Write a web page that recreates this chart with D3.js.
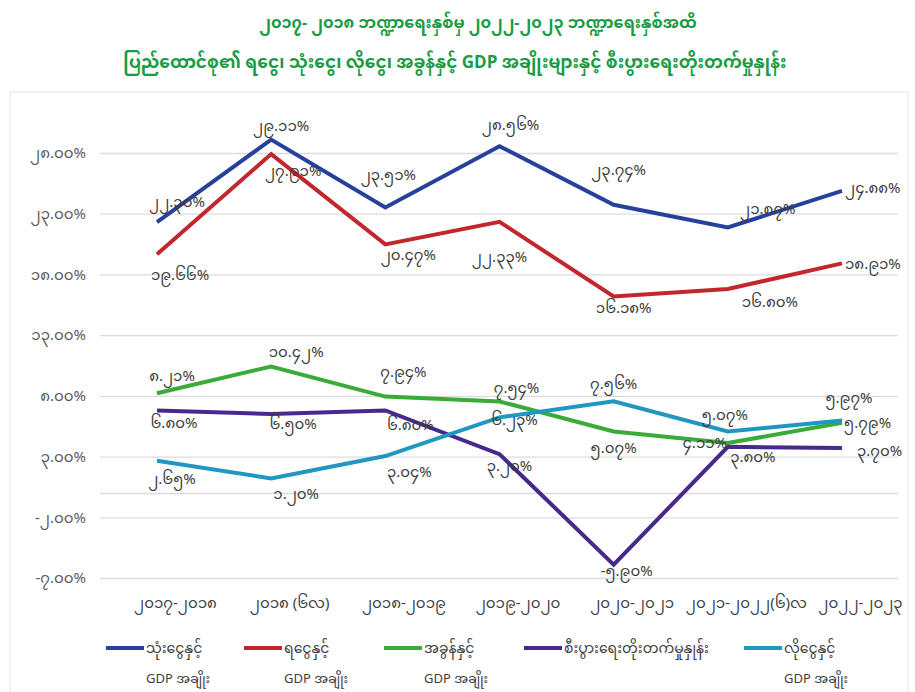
<!DOCTYPE html>
<html>
<head>
<meta charset="utf-8">
<script src="https://cdn.jsdelivr.net/npm/d3@7"></script>
<style>
  body { margin: 0; background: #fff; }
  text { font-family: "Noto Sans Myanmar", "Myanmar Text", "Padauk", "Noto Sans", sans-serif; }
</style>
</head>
<body>
<div id="chart"></div>
<script>
// data
var categories = ["၂၀၁၇-၂၀၁၈", "၂၀၁၈ (၆လ)", "၂၀၁၈-၂၀၁၉", "၂၀၁၉-၂၀၂၀", "၂၀၂၀-၂၀၂၁", "၂၀၂၁-၂၀၂၂(၆)လ", "၂၀၂၂-၂၀၂၃"];
var expenditure = [22.30, 29.11, 23.51, 28.56, 23.74, 21.87, 24.88];
var revenue = [19.66, 27.91, 20.47, 22.33, 16.18, 16.80, 18.91];
var tax = [8.21, 10.42, 7.94, 7.54, 5.07, 4.11, 5.79];
var growth = [6.80, 6.50, 6.80, 3.20, -5.90, 3.80, 3.70];
var deficit = [2.65, 1.20, 3.04, 6.23, 7.56, 5.07, 5.97];
var yTicks = [28, 23, 18, 13, 8, 3, -2, -7];
var seriesNames = [
    ["သုံးငွေနှင့်", "GDP အချိုး"],
    ["ရငွေနှင့်", "GDP အချိုး"],
    ["အခွန်နှင့်", "GDP အချိုး"],
    ["စီးပွားရေးတိုးတက်မှုနှုန်း"],
    ["လိုငွေနှင့်", "GDP အချိုး"]
];

function init() {
    var w = 915;
    var h = 692;

    var colors = ["#26409b", "#c1272d", "#3aab38", "#46298b", "#1f97c1"];
    var allSeries = [expenditure, revenue, tax, growth, deficit];

    // label offsets (dx, dy, anchor) per point, for layout only
    var labelPos = [
        [[20,-20,"middle"],[10,-14,"middle"],[3,-33,"middle"],[11,-21,"middle"],[5,-35,"middle"],[40,-19,"middle"],[3,-3,"start"]],
        [[23,20,"middle"],[22,17,"middle"],[23,10,"middle"],[0,35,"middle"],[10,11,"middle"],[42,13,"middle"],[3,0,"start"]],
        [[15,-18,"middle"],[25,-15,"middle"],[18,-25,"middle"],[17,-14,"middle"],[0,16,"middle"],[-23,0,"middle"],[2,0,"start"]],
        [[17,12,"middle"],[22,10,"middle"],[25,14,"middle"],[10,12,"middle"],[13,6,"middle"],[25,10,"middle"],[15,3,"start"]],
        [[15,18,"middle"],[25,15,"middle"],[24,16,"middle"],[15,2,"middle"],[0,-17,"middle"],[-3,-17,"middle"],[7,-23,"middle"]]
    ];

    var mmDigits = "၀၁၂၃၄၅၆၇၈၉";
    function toMM(s) {
        return String(s).replace(/[0-9]/g, function(c){ return mmDigits[+c]; });
    }

    var svg = d3.select("#chart")
        .append("svg")
        .attr("width", w)
        .attr("height", h);

    svg.append("rect")
        .attr("x", 10).attr("y", 92)
        .attr("width", 898).attr("height", 620)
        .attr("fill", "none")
        .attr("stroke", "#e3e3e3");

    // title
    var title = svg.append("g")
        .attr("fill", "#1a9b45")
        .attr("font-weight", "bold")
        .attr("font-size", 17)
        .attr("text-anchor", "middle");
    title.append("text").attr("x", 478).attr("y", 28)
        .attr("font-size", 16)
        .text("၂၀၁၇- ၂၀၁၈ ဘဏ္ဍာရေးနှစ်မှ  ၂၀၂၂-၂၀၂၃ ဘဏ္ဍာရေးနှစ်အထိ");
    title.append("text").attr("x", 455).attr("y", 68)
        .text("ပြည်ထောင်စု၏ ရငွေ၊ သုံးငွေ၊ လိုငွေ၊ အခွန်နှင့် GDP အချိုးများနှင့် စီးပွားရေးတိုးတက်မှုနှုန်း");

    var x = d3.scalePoint()
        .domain(categories)
        .range([157, 842]);

    var y = d3.scaleLinear()
        .domain([-7, 28])
        .range([578, 153]);

    // gridlines + y labels
    var yAxis = d3.axisLeft(y)
        .tickValues(yTicks.concat([0]))
        .tickSize(-798)
        .tickPadding(14)
        .tickFormat(function(d){ return d === 0 ? "" : toMM(d.toFixed(2)) + "%"; });

    var gy = svg.append("g")
        .attr("transform", "translate(100,0)")
        .call(yAxis);
    gy.select(".domain").remove();
    gy.selectAll(".tick line").attr("stroke", "#dcdcdc").attr("stroke-width", 1.3);
    gy.selectAll(".tick text")
        .attr("fill", "#595959")
        .attr("font-size", 15);

    // x labels
    var xAxis = d3.axisBottom(x).tickSize(0).tickPadding(0);
    var gx = svg.append("g")
        .attr("transform", "translate(18,597)")
        .call(xAxis);
    gx.select(".domain").remove();
    gx.selectAll(".tick text")
        .attr("fill", "#404040")
        .attr("font-size", 15);

    var line = d3.line()
        .x(function(d, i){ return x(categories[i]); })
        .y(function(d){ return y(d); });

    // draw series
    var order = [2, 3, 4, 1, 0];
    order.forEach(function(s){
        svg.append("path")
            .datum(allSeries[s])
            .attr("d", line)
            .attr("fill", "none")
            .attr("stroke", colors[s])
            .attr("stroke-width", 4)
            .attr("stroke-linejoin", "miter");
    });

    // data labels
    allSeries.forEach(function(data, s){
        svg.append("g")
            .selectAll("text")
            .data(data)
            .enter()
            .append("text")
            .attr("x", function(d, i){ return x(categories[i]) + labelPos[s][i][0]; })
            .attr("y", function(d, i){ return y(d) + labelPos[s][i][1]; })
            .attr("dy", "0.35em")
            .attr("text-anchor", function(d, i){ return labelPos[s][i][2]; })
            .attr("fill", "#3a3a3a")
            .attr("font-size", 15)
            .text(function(d){ return toMM(d.toFixed(2)) + "%"; });
    });

    // legend
    var legendX = [106, 244, 384, 524, 744];
    var legend = svg.append("g");
    seriesNames.forEach(function(names, s){
        var g = legend.append("g").attr("transform", "translate(" + legendX[s] + ",0)");
        g.append("line")
            .attr("x1", 0).attr("x2", 38)
            .attr("y1", 648).attr("y2", 648)
            .attr("stroke", colors[s])
            .attr("stroke-width", 4);
        g.append("text")
            .attr("x", 40).attr("y", 648)
            .attr("dy", "0.35em")
            .attr("fill", "#404040")
            .attr("font-size", 14)
            .text(names[0]);
        if (names[1]) {
            g.append("text")
                .attr("x", 40).attr("y", 678)
                .attr("dy", "0.35em")
                .attr("fill", "#404040")
                .attr("font-size", 13)
                .text(names[1]);
        }
    });
}

window.onload = init;
</script>
</body>
</html>
